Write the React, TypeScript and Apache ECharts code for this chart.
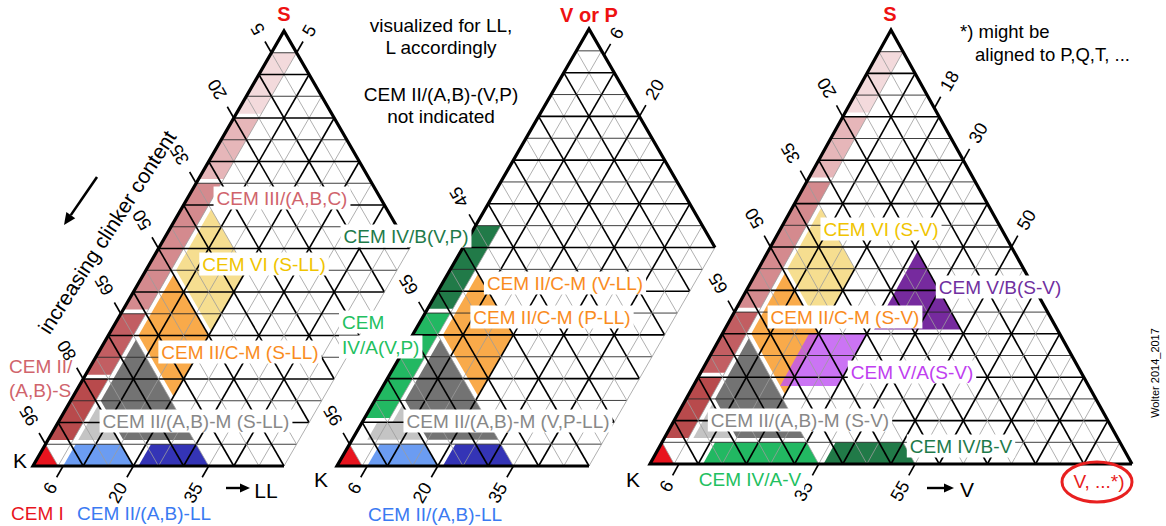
import React, { useEffect, useRef } from "react";
import * as echarts from "echarts";

// Ternary point: [top component %, right component %]; clinker K = 100 - top - right
type TP = [number, number];

// ---------- region vertices (ternary %) ----------
const CEM_I: TP[] = [[0, 0], [5, 0], [0, 5]];
const II_A_S: TP[] = [[6, 0], [20, 0], [20, 5], [6, 5]];
const II_B_S: TP[] = [[21, 0], [35, 0], [35, 5], [21, 5]];
const III_A: TP[] = [[36, 0], [65, 0], [65, 5], [36, 5]];
const III_B: TP[] = [[66, 0], [80, 0], [80, 5], [66, 5]];
const III_C: TP[] = [[81, 0], [95, 0], [95, 5], [81, 5]];
const II_A_LL: TP[] = [[0, 6], [0, 20], [5, 15], [5, 6]];
const II_B_LL: TP[] = [[0, 21], [0, 35], [5, 30], [5, 21]];
const II_A_M: TP[] = [[6, 6], [14, 6], [6, 14]];
const II_A_M_VP: TP[] = [[6, 3], [10, 3], [10, 6], [14, 6], [6, 14]];
const II_B_M: TP[] = [[15, 6], [29, 6], [6, 29], [6, 15]];
const II_C_M: TP[] = [[30, 6], [44, 6], [30, 20], [16, 20]];
const VI: TP[] = [[45, 6], [59, 6], [45, 20], [31, 20]];
const IV_A_VP: TP[] = [[11, 0], [35, 0], [35, 5], [11, 5]];
const IV_B_VP: TP[] = [[36, 0], [55, 0], [55, 5], [36, 5]];
const IV_A_V: TP[] = [[0, 11], [0, 35], [5, 30], [5, 11]];
const IV_B_V: TP[] = [[0, 36], [0, 55], [5, 50], [5, 36]];
const V_A: TP[] = [[18, 18], [30, 18], [30, 30], [18, 30]];
const V_B: TP[] = [[31, 31], [49, 31], [31, 49]];

// ---------- tick values ----------
const T1_LEFT = [5, 20, 35, 50, 65, 80, 95];
const T1_RIGHT = [5];
const T1_BOTTOM = [6, 20, 35];
const T2_LEFT = [45, 65, 95];
const T2_RIGHT = [6, 20];
const T2_BOTTOM = [6, 20, 35];
const T3_LEFT = [20, 35, 50, 65];
const T3_RIGHT = [18, 30, 50];
const T3_BOTTOM = [6, 35, 55];

const GRID_VALUES = [5, 10, 15, 20, 25, 30, 35, 40, 45, 50, 55, 60, 65, 70, 75, 80, 85, 90, 95];

// ---------- colours ----------
const C = {
  red: "#e8141e",
  iiAS: "#b84a4c",
  iiBS: "#c25e62",
  iiiA: "#d48a8e",
  iiiB: "#e6b6b9",
  iiiC: "#f3dadc",
  lightBlue: "#6b9cf2",
  darkBlue: "#3434b6",
  lightGray: "#c4c4c4",
  darkGray: "#737373",
  orange: "#f9aa4a",
  yellow: "#f6de90",
  green: "#22b862",
  darkGreen: "#217a48",
  violet: "#bf55f2",
  purple: "#762a9e",
};

type Region = { pts: TP[]; color: string; opacity?: number };

const P1_REGIONS: Region[] = [
  { pts: CEM_I, color: C.red },
  { pts: II_A_S, color: C.iiAS },
  { pts: II_B_S, color: C.iiBS },
  { pts: III_A, color: C.iiiA },
  { pts: III_B, color: C.iiiB },
  { pts: III_C, color: C.iiiC },
  { pts: II_A_LL, color: C.lightBlue },
  { pts: II_B_LL, color: C.darkBlue },
  { pts: II_A_M, color: C.lightGray },
  { pts: II_B_M, color: C.darkGray },
  { pts: II_C_M, color: C.orange },
  { pts: VI, color: C.yellow },
];
const P2_REGIONS: Region[] = [
  { pts: CEM_I, color: C.red },
  { pts: IV_A_VP, color: C.green },
  { pts: IV_B_VP, color: C.darkGreen },
  { pts: II_A_LL, color: C.lightBlue },
  { pts: II_B_LL, color: C.darkBlue },
  { pts: II_A_M_VP, color: C.lightGray },
  { pts: II_B_M, color: C.darkGray },
  { pts: II_C_M, color: C.orange },
];
const P3_REGIONS: Region[] = [
  { pts: CEM_I, color: C.red },
  { pts: II_A_S, color: C.iiAS },
  { pts: II_B_S, color: C.iiBS },
  { pts: III_A, color: C.iiiA },
  { pts: III_B, color: C.iiiB },
  { pts: III_C, color: C.iiiC },
  { pts: II_A_M, color: C.lightGray },
  { pts: II_B_M, color: C.darkGray },
  { pts: IV_A_V, color: C.green },
  { pts: IV_B_V, color: C.darkGreen },
  { pts: II_C_M, color: C.orange },
  { pts: VI, color: C.yellow },
  { pts: V_A, color: C.violet, opacity: 0.82 },
  { pts: V_B, color: C.purple },
];

const PANELS = [
  { box: { left: 33, top: 31, width: 502, height: 435 }, cut: 50, regions: P1_REGIONS, L: T1_LEFT, R: T1_RIGHT, B: T1_BOTTOM },
  { box: { left: 337, top: 29, width: 504, height: 437 }, cut: 50, regions: P2_REGIONS, L: T2_LEFT, R: T2_RIGHT, B: T2_BOTTOM },
  { box: { left: 650, top: 30, width: 482, height: 434 }, cut: 100, regions: P3_REGIONS, L: T3_LEFT, R: T3_RIGHT, B: T3_BOTTOM },
];

const FONT = '"Liberation Sans", Arial, Helvetica, sans-serif';
const xy = (p: TP) => [p[1] + p[0] / 2, p[0]];

function buildGridLines(cut: number) {
  const lines: { a: TP; b: TP; major: boolean; horiz: boolean }[] = [];
  GRID_VALUES.forEach((v) => {
    const major = v % 10 === 0;
    lines.push({ a: [v, 0], b: [v, Math.min(100 - v, cut)], major, horiz: true });
    if (v <= cut) lines.push({ a: [0, v], b: [100 - v, v], major: major && v !== cut, horiz: false });
    const r0 = Math.min(100 - v, cut);
    lines.push({ a: [100 - v - r0, r0], b: [100 - v, 0], major, horiz: false });
  });
  return lines;
}

function buildOption() {
  const grid: any[] = [];
  const xAxis: any[] = [];
  const yAxis: any[] = [];
  const series: any[] = [];

  PANELS.forEach((p, gi) => {
    grid.push({ ...p.box, containLabel: false });
    xAxis.push({ type: "value", gridIndex: gi, min: 0, max: 100, show: false });
    yAxis.push({ type: "value", gridIndex: gi, min: 0, max: 100, show: false });
    const base = { type: "custom", coordinateSystem: "cartesian2d", xAxisIndex: gi, yAxisIndex: gi, silent: true, clip: false, animation: false };

    // regions
    series.push({
      ...base,
      z: 1,
      data: p.regions.map(() => [50, 50]),
      renderItem: (params: any, api: any) => {
        const reg = p.regions[params.dataIndex];
        return {
          type: "polygon",
          shape: { points: reg.pts.map((q) => api.coord(xy(q))) },
          style: { fill: reg.color, opacity: reg.opacity ?? 1 },
        };
      },
    });

    // grid lines
    const lines = buildGridLines(p.cut);
    series.push({
      ...base,
      z: 2,
      data: lines.map(() => [50, 50]),
      renderItem: (params: any, api: any) => {
        const ln = lines[params.dataIndex];
        const a = api.coord(xy(ln.a));
        const b = api.coord(xy(ln.b));
        let stroke = "#000";
        let lw = 1.6;
        if (!ln.major) {
          if (ln.horiz) { stroke = "#2a2a2a"; lw = 0.9; } else { stroke = "#9c9c9c"; lw = 0.8; }
        }
        return { type: "line", shape: { x1: a[0], y1: a[1], x2: b[0], y2: b[1] }, style: { stroke, lineWidth: lw } };
      },
    });

    // border
    const borderPts: TP[] = p.cut < 100 ? [[0, p.cut], [0, 0], [100, 0], [100 - p.cut, p.cut]] : [[0, 100], [0, 0], [100, 0], [0, 100]];
    series.push({
      ...base,
      z: 3,
      data: [[50, 50]],
      renderItem: (_params: any, api: any) => ({
        type: "polyline",
        shape: { points: borderPts.map((q) => api.coord(xy(q))) },
        style: { stroke: "#000", lineWidth: 3.2, fill: "none", lineJoin: "miter" },
      }),
    });

    // ticks
    const ticks = [
      ...p.L.map((v) => ({ side: "L", v })),
      ...p.R.map((v) => ({ side: "R", v })),
      ...p.B.map((v) => ({ side: "B", v })),
    ];
    series.push({
      ...base,
      z: 3,
      data: ticks.map(() => [50, 50]),
      renderItem: (params: any, api: any) => {
        const tk = ticks[params.dataIndex];
        let a: number[], b: number[];
        if (tk.side === "L") {
          const t = 100 - tk.v;
          a = api.coord(xy([t, 0]));
          b = api.coord(xy([t - 1, 1]));
        } else if (tk.side === "R") {
          a = api.coord(xy([100 - tk.v, tk.v]));
          b = api.coord(xy([99 - tk.v, tk.v]));
        } else {
          a = api.coord(xy([0, tk.v]));
          b = api.coord(xy([1, tk.v]));
        }
        const dx = a[0] - b[0];
        const dy = a[1] - b[1];
        const len = Math.hypot(dx, dy);
        const ux = dx / len;
        const uy = dy / len;
        const label = String(tk.v);
        const off = (tk.side === "L" ? 22 : 20) + label.length * 5.5;
        return {
          type: "group",
          children: [
            { type: "line", shape: { x1: a[0], y1: a[1], x2: a[0] + ux * 13, y2: a[1] + uy * 13 }, style: { stroke: "#000", lineWidth: 1.6 } },
            {
              type: "text",
              x: a[0] + ux * off,
              y: a[1] + uy * off,
              rotation: tk.side === "L" ? (2 * Math.PI) / 3 : Math.PI / 3,
              style: { text: label, fill: "#000", font: `18px ${FONT}`, align: "center", verticalAlign: "middle" },
            },
          ],
        };
      },
    });
  });

  const txt = (text: string, x: number, y: number, fill: string, o: any = {}) => ({
    type: "text",
    x,
    y,
    z: 100,
    rotation: o.rotation ?? 0,
    style: {
      text,
      fill,
      font: `${o.bold ? "bold " : ""}${o.size ?? 19}px ${FONT}`,
      align: o.align ?? "center",
      verticalAlign: "middle",
      backgroundColor: o.bg === false ? undefined : "#fff",
      padding: o.bg === false ? 0 : [2, 3, 2, 3],
    },
  });

  const arrow = (x1: number, y1: number, x2: number, y2: number, w = 2.2, head = 10) => {
    const ang = Math.atan2(y2 - y1, x2 - x1);
    const bx = x2 - head * Math.cos(ang);
    const by = y2 - head * Math.sin(ang);
    const px = -Math.sin(ang) * head * 0.45;
    const py = Math.cos(ang) * head * 0.45;
    return [
      { type: "line", z: 100, shape: { x1, y1, x2: bx, y2: by }, style: { stroke: "#000", lineWidth: w } },
      { type: "polygon", z: 100, shape: { points: [[x2, y2], [bx + px, by + py], [bx - px, by - py]] }, style: { fill: "#000" } },
    ];
  };

  const graphic: any[] = [
    // vertex titles
    txt("S", 284, 14, "#ee1111", { bold: true, size: 20, bg: false }),
    txt("V or P", 589, 15, "#ee1111", { bold: true, size: 20, bg: false }),
    txt("S", 890, 14, "#ee1111", { bold: true, size: 20, bg: false }),
    txt("K", 20, 460, "#000", { size: 21, bg: false }),
    txt("K", 321, 479, "#000", { size: 21, bg: false }),
    txt("K", 633, 479, "#000", { size: 21, bg: false }),
    // panel 1
    txt("CEM III/(A,B,C)", 282, 198, "#d0646c"),
    txt("CEM VI (S-LL)", 264, 264, "#f0c400"),
    txt("CEM II/C-M (S-LL)", 240, 352, "#f98c1e"),
    txt("CEM II/(A,B)-M (S-LL)", 196, 421, "#888888"),
    txt("CEM II/", 9, 366, "#d0646c", { align: "left", bg: false }),
    txt("(A,B)-S", 9, 390, "#d0646c", { align: "left", bg: false }),
    txt("CEM I", 11, 513, "#e8141e", { align: "left", bg: false }),
    txt("CEM II/(A,B)-LL", 77, 513, "#3a7af2", { align: "left", bg: false }),
    txt("LL", 266, 490, "#000", { size: 21, bg: false }),
    txt("increasing clinker content", 107, 232, "#000", { rotation: 1.0, size: 21, bg: false }),
    // panel 2
    txt("visualized for LL,", 441, 25, "#000", { bg: false }),
    txt("L accordingly", 441, 47, "#000", { bg: false }),
    txt("CEM II/(A,B)-(V,P)", 441, 94, "#000", { bg: false }),
    txt("not indicated", 441, 116, "#000", { bg: false }),
    txt("CEM IV/B(V,P)", 406, 236, "#1e7a4a"),
    txt("CEM", 339, 322, "#22c060", { align: "left" }),
    txt("IV/A(V,P)", 339, 347, "#22c060", { align: "left" }),
    txt("CEM II/C-M (V-LL)", 565, 283, "#f98c1e"),
    txt("CEM II/C-M (P-LL)", 552, 317, "#f98c1e"),
    txt("CEM II/(A,B)-M (V,P-LL)", 508, 421, "#888888"),
    txt("CEM II/(A,B)-LL", 435, 514, "#3a7af2", { bg: false }),
    // panel 3
    txt("*) might be", 960, 31, "#000", { size: 18.5, align: "left", bg: false }),
    txt("aligned to P,Q,T, ...", 975, 54, "#000", { size: 18.5, align: "left", bg: false }),
    txt("CEM VI (S-V)", 881, 229, "#f0c400"),
    txt("CEM V/B(S-V)", 1000, 287, "#7030a0"),
    txt("CEM II/C-M (S-V)", 845, 317, "#f98c1e"),
    txt("CEM V/A(S-V)", 912, 372, "#c040f0"),
    txt("CEM II/(A,B)-M (S-V)", 800, 420, "#888888"),
    txt("CEM IV/B-V", 961, 446, "#1e7a4a"),
    txt("CEM IV/A-V", 750, 479, "#22c060"),
    txt("V", 967, 489, "#000", { size: 21, bg: false }),
    txt("V, ...*)", 1099, 481, "#e82020", { bg: false }),
    txt("Wolter 2014_2017", 1155, 373, "#000", { size: 11, rotation: Math.PI / 2, bg: false }),
    {
      type: "ellipse",
      z: 100,
      shape: { cx: 1097, cy: 482, rx: 35, ry: 20 },
      style: { fill: "none", stroke: "#e82020", lineWidth: 3 },
    },
    ...arrow(97, 177, 64, 225, 2.6, 12),
    ...arrow(226, 488, 250, 488, 2.4, 10),
    ...arrow(927, 488, 954, 488, 2.4, 10),
  ];

  return {
    animation: false,
    backgroundColor: "#fff",
    grid,
    xAxis,
    yAxis,
    series,
    graphic,
  };
}

export default function App() {
  const ref = useRef<HTMLDivElement>(null);
  useEffect(() => {
    const chart = echarts.init(ref.current!, null, { renderer: "svg" });
    chart.setOption(buildOption() as any);
    return () => chart.dispose();
  }, []);
  return (
    <div
      ref={ref}
      style={{ position: "absolute", left: 0, top: 0, width: 1166, height: 526, background: "#fff" }}
    />
  );
}
